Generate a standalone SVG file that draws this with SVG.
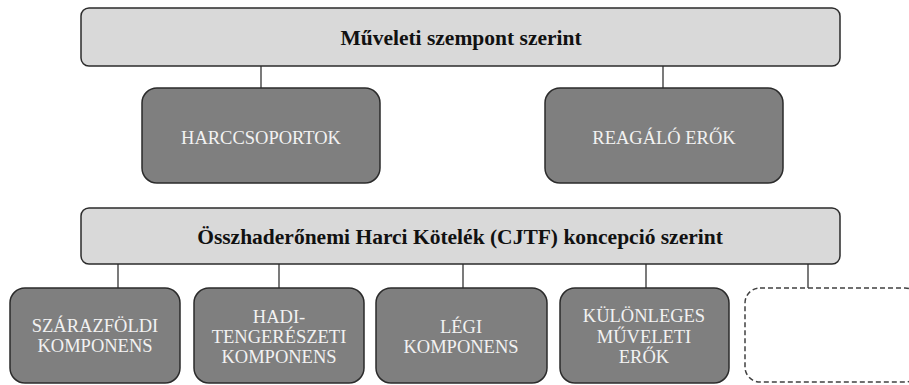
<svg xmlns="http://www.w3.org/2000/svg" width="909" height="385" viewBox="0 0 909 385">
<style>
.bar{fill:#d9d9d9;stroke:#2b2b2b;stroke-width:1.5}
.box{fill:#7f7f7f;stroke:#2b2b2b;stroke-width:1.5}
.dash{fill:#ffffff;stroke:#404040;stroke-width:1.5;stroke-dasharray:5 3}
.ttl{font-family:'Liberation Serif','Times New Roman','DejaVu Serif',serif;font-weight:bold;font-size:21.5px;fill:#111;text-anchor:middle}
.lbl{font-family:'Liberation Serif','Times New Roman','DejaVu Serif',serif;font-size:18.5px;fill:#f2f2f2;text-anchor:middle}
.con{stroke:#333;stroke-width:1.3;fill:none}
</style>
<rect width="909" height="385" fill="#ffffff"/>
<g id="connectors">
<line class="con" x1="261" y1="66" x2="261" y2="88"/>
<line class="con" x1="663" y1="66" x2="663" y2="88"/>
<line class="con" x1="118" y1="264" x2="118" y2="288"/>
<line class="con" x1="279" y1="264" x2="279" y2="288"/>
<line class="con" x1="463" y1="264" x2="463" y2="288"/>
<line class="con" x1="646" y1="264" x2="646" y2="288"/>
<line class="con" x1="808" y1="264" x2="808" y2="288"/>
</g>
<g id="muveleti">
<rect class="bar" x="81" y="8" width="759" height="58" rx="8"/>
<text class="ttl" x="461" y="45">Műveleti szempont szerint</text>
</g>
<g id="harccsoportok">
<rect class="box" x="142" y="88" width="238" height="95" rx="15"/>
<text class="lbl" x="261" y="144">HARCCSOPORTOK</text>
</g>
<g id="reagalo">
<rect class="box" x="545" y="88" width="238" height="95" rx="15"/>
<text class="lbl" x="664" y="144">REAGÁLÓ ERŐK</text>
</g>
<g id="cjtf">
<rect class="bar" x="81" y="208" width="759" height="56" rx="8"/>
<text class="ttl" x="460" y="244">Összhaderőnemi Harci Kötelék (CJTF) koncepció szerint</text>
</g>
<g id="szarazfoldi">
<rect class="box" x="10" y="288" width="170" height="95" rx="15"/>
<text class="lbl" x="95" y="332">SZÁRAZFÖLDI</text>
<text class="lbl" x="95" y="352">KOMPONENS</text>
</g>
<g id="haditengereszeti">
<rect class="box" x="194" y="288" width="170" height="95" rx="15"/>
<text class="lbl" x="279" y="323">HADI-</text>
<text class="lbl" x="279" y="343">TENGERÉSZETI</text>
<text class="lbl" x="279" y="363">KOMPONENS</text>
</g>
<g id="legi">
<rect class="box" x="376" y="288" width="171" height="95" rx="15"/>
<text class="lbl" x="461" y="333">LÉGI</text>
<text class="lbl" x="461" y="353">KOMPONENS</text>
</g>
<g id="kulonleges">
<rect class="box" x="560" y="288" width="169" height="95" rx="15"/>
<text class="lbl" x="644" y="322">KÜLÖNLEGES</text>
<text class="lbl" x="644" y="343">MŰVELETI</text>
<text class="lbl" x="644" y="363">ERŐK</text>
</g>
<g id="ures">
<rect class="dash" x="745" y="288" width="175" height="94" rx="15"/>
</g>
</svg>
